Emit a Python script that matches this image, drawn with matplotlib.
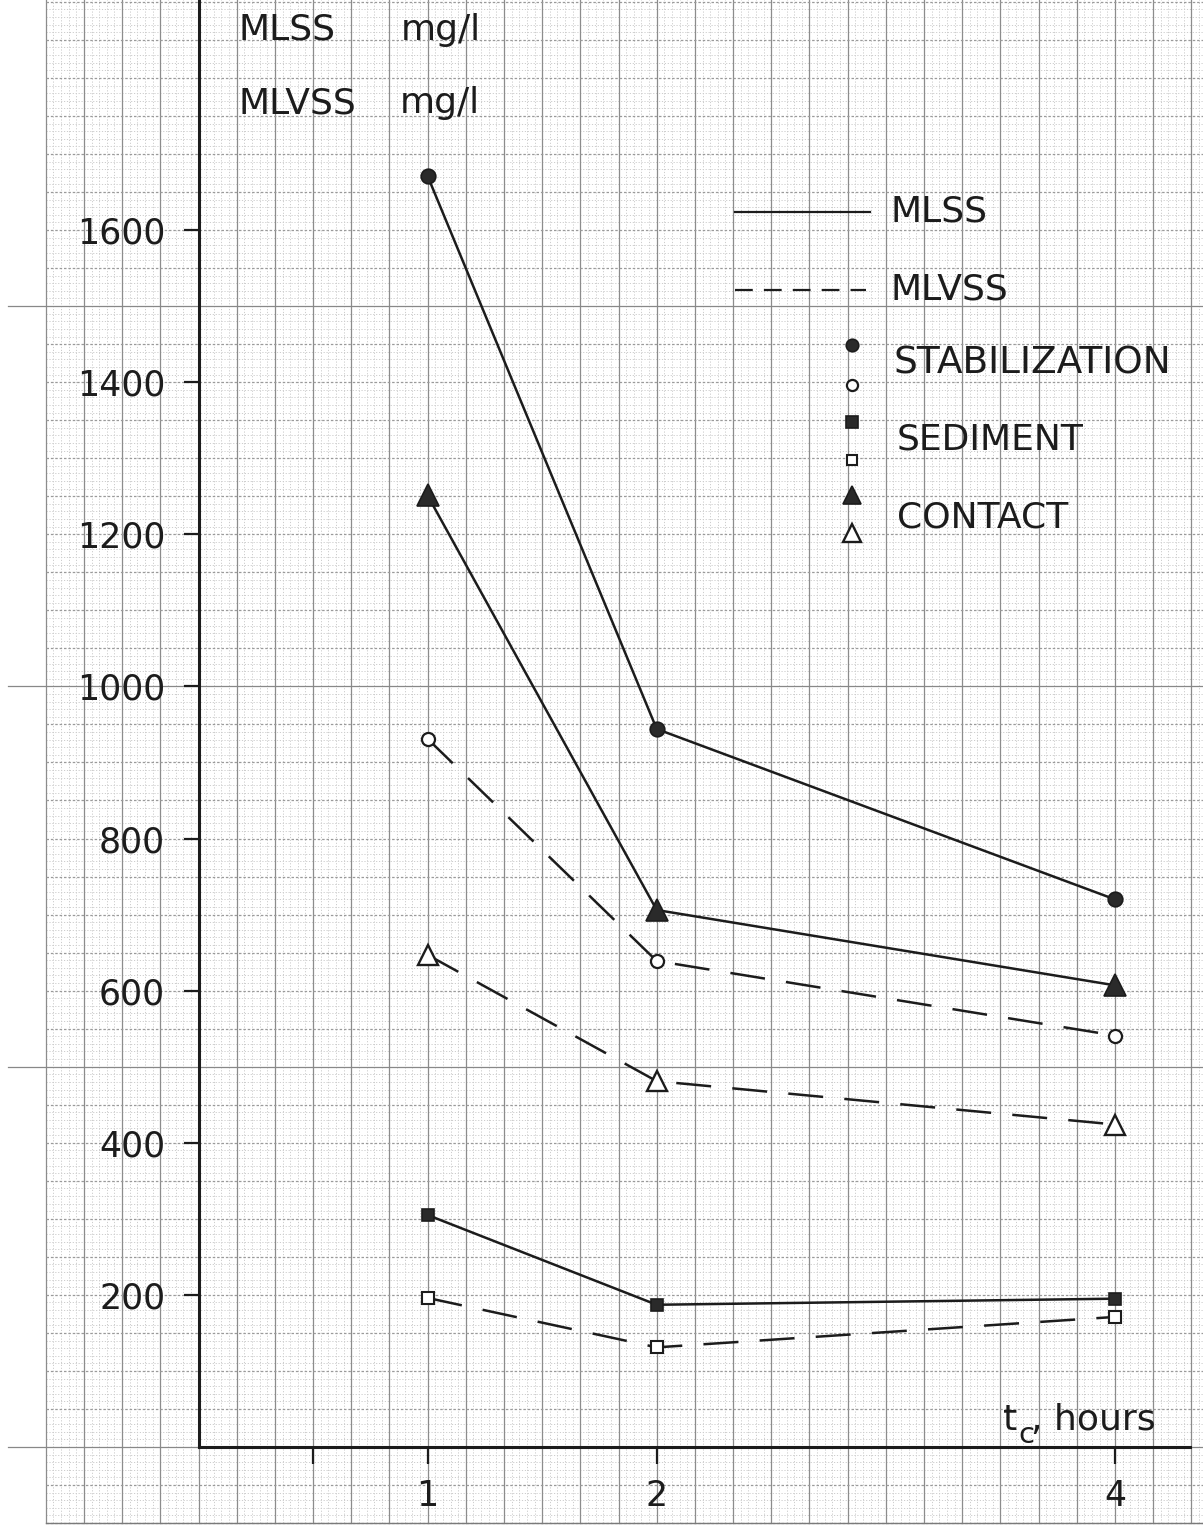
import numpy as np
import matplotlib
matplotlib.use("Agg")
import matplotlib.pyplot as plt
from matplotlib.lines import Line2D

# ---- data: suspended solids vs. contact time ----
hours = [1, 2, 4]
stab_mlss = [1671, 944, 720]
stab_mlvss = [931, 639, 541]
sed_mlss = [305, 187, 195]
sed_mlvss = [196, 131, 171]
cont_mlss = [1251, 706, 607]
cont_mlvss = [647, 481, 424]

y_ticks = [200, 400, 600, 800, 1000, 1200, 1400, 1600]
x_ticks = [0.5, 1, 2, 4]
x_tick_labels = ["", "1", "2", "4"]

plt.rcParams["font.family"] = ["DejaVu Sans"]
plt.rcParams["mathtext.fontset"] = "dejavusans"

INK = "#1c1c1c"
W, H = 1203, 1531
fig = plt.figure(figsize=(W / 100, H / 100), dpi=100)
fig.patch.set_facecolor("white")

# page geometry (pixels)
X0_PX, PX_PER_HOUR = 198.5, 229.1
Y0_PX, PX_PER_UNIT = 1447.0, 0.7606
X_END_PX = 1190.0


def fx(px):
    return px / W


def fy(py):
    return 1 - py / H


# ---- graph paper in a full-page axes sharing the data scale ----
bg = fig.add_axes([0, 0, 1, 1], zorder=0)
bx0 = -X0_PX / PX_PER_HOUR
bx1 = (W - X0_PX) / PX_PER_HOUR
by0 = (Y0_PX - H) / PX_PER_UNIT
by1 = Y0_PX / PX_PER_UNIT
bg.set_xlim(bx0, bx1)
bg.set_ylim(by0, by1)
bg.axis("off")

paper_x0, paper_y0 = -2 / 3, -100
fine_x = np.arange(0, 200) / 30 + paper_x0
fine_x = fine_x[fine_x <= bx1]
fine_y = np.arange(0, 400) * 10 + paper_y0
fine_y = fine_y[fine_y <= by1]

for i, xv in enumerate(fine_x):
    if i % 5 == 0:
        bg.plot([xv, xv], [paper_y0, by1], color="#8c8c8c", lw=0.9, zorder=1)
    else:
        bg.plot([xv, xv], [paper_y0, by1], color="#cdcdcd", lw=0.7,
                ls=(0, (1.2, 1.8)), zorder=0.5)
for j, yv in enumerate(fine_y):
    if j % 5 == 0:
        if round(yv) % 500 == 0:
            bg.plot([-0.83, bx1], [yv, yv], color="#888888", lw=0.9, zorder=1)
        else:
            bg.plot([paper_x0, bx1], [yv, yv], color="#9a9a9a", lw=0.9,
                    ls=(0, (2.0, 1.5)), zorder=1)
    else:
        bg.plot([paper_x0, bx1], [yv, yv], color="#cdcdcd", lw=0.7,
                ls=(0, (1.2, 1.8)), zorder=0.5)
bg.plot([paper_x0, bx1], [paper_y0, paper_y0], color="#7a7a7a", lw=1.0, zorder=1)

# ---- main plotting axes ----
ax = fig.add_axes([fx(X0_PX), fy(Y0_PX), (X_END_PX - X0_PX) / W, Y0_PX / H], zorder=2)
ax.patch.set_visible(False)
ax.set_xlim(0, (X_END_PX - X0_PX) / PX_PER_HOUR)
ax.set_ylim(0, Y0_PX / PX_PER_UNIT)
for side in ("top", "right"):
    ax.spines[side].set_visible(False)
for side in ("left", "bottom"):
    ax.spines[side].set_linewidth(2.2)
    ax.spines[side].set_color(INK)

ax.set_yticks(y_ticks)
ax.set_yticklabels([str(v) for v in y_ticks])
ax.set_xticks(x_ticks)
ax.set_xticklabels(x_tick_labels)
ax.tick_params(axis="y", direction="out", length=11, width=1.6, pad=13,
               labelsize=25, colors=INK)
ax.tick_params(axis="x", direction="out", length=12, width=1.6, pad=11,
               labelsize=25, colors=INK)

solid = dict(color=INK, lw=1.8)
dashed = dict(color=INK, lw=1.8, ls=(0, (14, 8.5)))

m_stab_f = dict(marker="o", ms=10.5, mfc="#2a2a2a", mec=INK, mew=1.2)
m_stab_o = dict(marker="o", ms=9.4, mfc="white", mec=INK, mew=1.6)
m_sed_f = dict(marker="s", ms=9.2, mfc="#2a2a2a", mec=INK, mew=1.2)
m_sed_o = dict(marker="s", ms=8.6, mfc="white", mec=INK, mew=1.5)
m_cont_f = dict(marker="^", ms=15.5, mfc="#2a2a2a", mec=INK, mew=1.2)
m_cont_o = dict(marker="^", ms=14.5, mfc="white", mec=INK, mew=1.7)

series = [
    (stab_mlss, solid, m_stab_f),
    (stab_mlvss, dashed, m_stab_o),
    (cont_mlss, solid, m_cont_f),
    (cont_mlvss, dashed, m_cont_o),
    (sed_mlss, solid, m_sed_f),
    (sed_mlvss, dashed, m_sed_o),
]
for vals, lstyle, mstyle in series:
    ax.plot(hours, vals, zorder=3, **lstyle)
    ax.plot(hours, vals, ls="none", zorder=4, clip_on=False, **mstyle)

# ---- axis captions ----
txt = dict(color=INK, fontsize=26, va="center", ha="left")
fig.text(fx(238), fy(30), "MLSS", **txt)
fig.text(fx(401), fy(30), "mg/l", **txt)
fig.text(fx(238), fy(103), "MLVSS", **txt)
fig.text(fx(400), fy(103), "mg/l", **txt)
fig.text(fx(1003), fy(1430), "t", color=INK, fontsize=26, va="baseline", ha="left")
fig.text(fx(1018), fy(1443), "c", color=INK, fontsize=21, va="baseline", ha="left")
fig.text(fx(1031), fy(1430), ", hours", color=INK, fontsize=26, va="baseline", ha="left")

# ---- legend ----
fig.add_artist(Line2D([fx(735), fx(870)], [fy(212), fy(212)], color=INK, lw=1.6))
fig.add_artist(Line2D([fx(735), fx(866)], [fy(290), fy(290)], color=INK, lw=1.6,
                      ls=(0, (8.0, 5.0))))
fig.text(fx(890), fy(212), "MLSS", **txt)
fig.text(fx(890), fy(290), "MLVSS", **txt)

leg_markers = [
    (345, dict(m_stab_f, ms=9.0)),
    (385, dict(m_stab_o, ms=8.0)),
    (422, dict(m_sed_f, ms=8.0)),
    (460, dict(m_sed_o, ms=7.6)),
    (495, dict(m_cont_f, ms=13.0)),
    (533, dict(m_cont_o, ms=13.0)),
]
for py, mstyle in leg_markers:
    fig.add_artist(Line2D([fx(852)], [fy(py)], ls="none", **mstyle))

fig.text(fx(893), fy(364), "STABILIZATION", **dict(txt, fontsize=27))
fig.text(fx(897), fy(440), "SEDIMENT", **txt)
fig.text(fx(897), fy(517), "CONTACT", **txt)

fig.savefig("out.png", dpi=100, facecolor="white")
